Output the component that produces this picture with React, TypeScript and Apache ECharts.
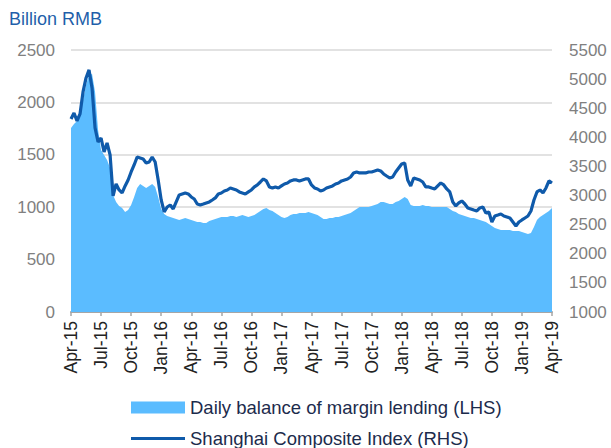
import React, { useEffect, useRef } from "react";
import * as echarts from "echarts";

const quarterLabels = ["Apr-15","Jul-15","Oct-15","Jan-16","Apr-16","Jul-16","Oct-16","Jan-17","Apr-17","Jul-17","Oct-17","Jan-18","Apr-18","Jul-18","Oct-18","Jan-19","Apr-19"];

const marginLending = [
  1755,1794,1822,1879,2022,2166,2261,2271,2099,1736,
  1545,1498,1450,1374,1116,1049,1011,992,954,973,
  1021,1097,1183,1221,1202,1183,1202,1221,1193,1097,
  983,935,916,906,897,887,878,887,897,887,
  878,868,859,859,849,849,868,878,887,897,
  906,906,906,916,916,906,916,925,916,906,
  916,925,944,964,983,992,973,964,944,925,
  906,897,906,925,935,935,944,944,944,954,
  944,935,925,906,887,887,897,897,906,906,
  916,925,935,944,964,983,1002,1002,1002,1002,
  1011,1021,1030,1049,1049,1040,1030,1030,1049,1059,
  1078,1097,1078,1021,1011,1011,1011,1021,1011,1011,
  1002,1002,1002,1002,1002,1002,983,964,954,935,
  925,916,906,897,897,887,878,868,859,840,
  820,801,792,782,782,782,782,773,773,773,
  763,754,744,754,811,878,906,925,944,964,
  992
];

const shanghaiIndex = [
  4316,4419,4281,4402,4780,5020,5158,4848,4161,3921,
  3989,3749,3903,3697,2993,3199,3096,3044,3165,3268,
  3405,3525,3663,3646,3629,3560,3577,3663,3577,3268,
  2924,2718,2804,2838,2770,2890,3010,3027,3044,3027,
  2976,2941,2855,2838,2855,2873,2890,2924,2959,3027,
  3044,3079,3096,3130,3113,3096,3062,3044,3027,3062,
  3096,3148,3182,3233,3285,3251,3148,3130,3148,3130,
  3165,3199,3216,3251,3268,3268,3251,3268,3285,3285,
  3182,3130,3113,3079,3096,3130,3148,3165,3199,3216,
  3251,3268,3285,3319,3388,3405,3388,3388,3388,3405,
  3405,3422,3440,3422,3371,3336,3302,3319,3405,3474,
  3543,3560,3268,3165,3302,3285,3268,3233,3148,3148,
  3130,3113,3165,3216,3182,3113,3062,2890,2821,2873,
  2907,2855,2787,2770,2752,2735,2787,2804,2701,2718,
  2546,2649,2666,2684,2649,2632,2615,2546,2477,2546,
  2581,2615,2649,2735,2924,3062,3096,3044,3130,3251,
  3216
];

const POINTS_PER_QUARTER = 10;
const categories = marginLending.map((_, i) => {
  const q = Math.floor(i / POINTS_PER_QUARTER);
  const r = i % POINTS_PER_QUARTER;
  return r === 0 ? quarterLabels[q] : `${quarterLabels[q]}#${r}`;
});

const AREA_NAME = "Daily balance of margin lending (LHS)";
const LINE_NAME = "Shanghai Composite Index (RHS)";
const FONT = "'Liberation Sans', Arial, sans-serif";
const AREA_COLOR = "#5bbcff";
const LINE_COLOR = "#0f5aaa";

export default function App() {
  const ref = useRef<HTMLDivElement>(null);
  useEffect(() => {
    if (!ref.current) return;
    const chart = echarts.init(ref.current, undefined, { renderer: "svg" });
    const legendText = { fontFamily: FONT, fontSize: 18.5, color: "#1c2b4c" };
    chart.setOption({
      animation: false,
      backgroundColor: "#ffffff",
      title: {
        text: "Billion RMB",
        left: 9,
        top: 10,
        padding: 0,
        textStyle: { fontFamily: FONT, fontSize: 18, fontWeight: "normal", color: "#1f5faa" },
      },
      legend: [
        {
          left: 131,
          top: 398,
          padding: 0,
          itemWidth: 54,
          itemHeight: 12,
          textStyle: legendText,
          data: [{ name: AREA_NAME, icon: "rect" }],
        },
        {
          left: 131,
          top: 429,
          padding: 0,
          itemWidth: 54,
          itemHeight: 3,
          textStyle: legendText,
          data: [{ name: LINE_NAME, icon: "rect" }],
        },
      ],
      grid: { left: 71, right: 59, top: 50, bottom: 136, containLabel: false },
      xAxis: {
        type: "category",
        data: categories,
        boundaryGap: false,
        axisLine: { lineStyle: { color: "#a6a6a6", width: 2 } },
        axisTick: { interval: POINTS_PER_QUARTER - 1, length: 4, lineStyle: { color: "#a6a6a6", width: 1.5 } },
        axisLabel: {
          interval: POINTS_PER_QUARTER - 1,
          rotate: 90,
          margin: 9,
          fontFamily: FONT,
          fontSize: 17.5,
          color: "#222222",
        },
        splitLine: { show: false },
      },
      yAxis: [
        {
          type: "value",
          min: 0,
          max: 2500,
          interval: 500,
          axisLine: { show: false },
          axisTick: { show: false },
          axisLabel: { fontFamily: FONT, fontSize: 17, color: "#808080", margin: 16, formatter: (v: number) => String(v) },
          splitLine: { lineStyle: { color: "#d9d9d9", width: 1.5 } },
        },
        {
          type: "value",
          min: 1000,
          max: 5500,
          interval: 500,
          axisLine: { show: false },
          axisTick: { show: false },
          axisLabel: { fontFamily: FONT, fontSize: 17, color: "#808080", margin: 17, formatter: (v: number) => String(v) },
          splitLine: { show: false },
        },
      ],
      series: [
        {
          name: AREA_NAME,
          type: "line",
          data: marginLending,
          yAxisIndex: 0,
          showSymbol: false,
          symbol: "none",
          lineStyle: { width: 0, color: AREA_COLOR },
          itemStyle: { color: AREA_COLOR },
          areaStyle: { color: AREA_COLOR, opacity: 1 },
          z: 1,
        },
        {
          name: LINE_NAME,
          type: "line",
          data: shanghaiIndex,
          yAxisIndex: 1,
          showSymbol: false,
          symbol: "none",
          lineStyle: { width: 3.2, color: LINE_COLOR },
          itemStyle: { color: LINE_COLOR },
          z: 3,
        },
      ],
    });
    return () => chart.dispose();
  }, []);
  return <div ref={ref} style={{ position: "absolute", left: 0, top: 0, width: 611, height: 448 }} />;
}
